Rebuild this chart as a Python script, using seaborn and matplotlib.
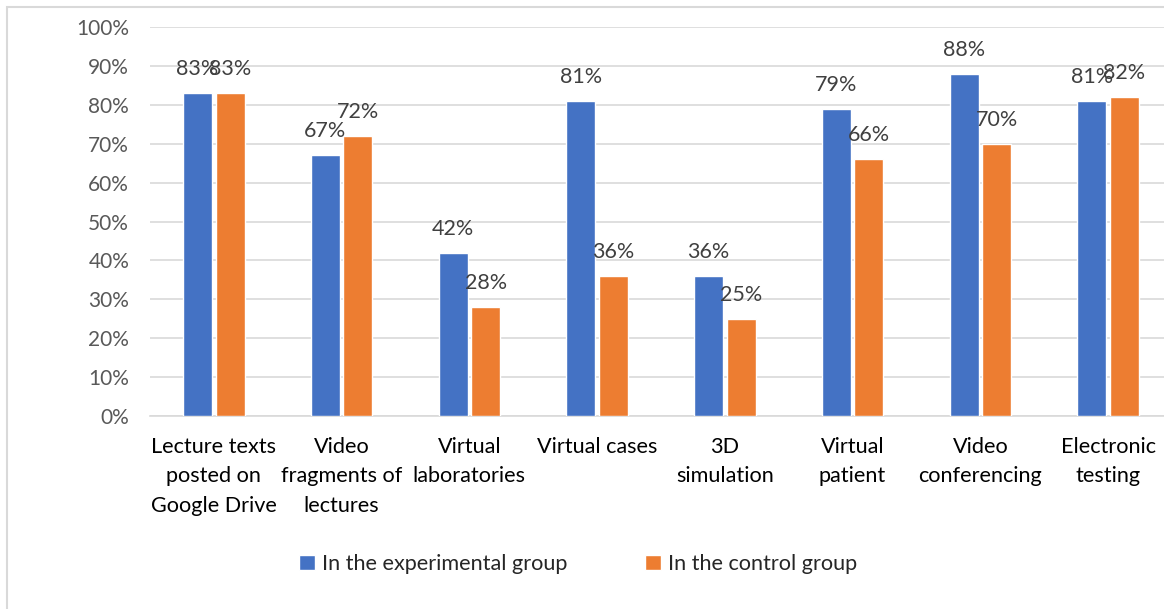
import pandas as pd
import seaborn as sns
import matplotlib.pyplot as plt
from matplotlib.patches import Rectangle

# données
categories = ["Lecture texts\nposted on\nGoogle Drive", "Video\nfragments of\nlectures",
              "Virtual\nlaboratories", "Virtual cases", "3D\nsimulation",
              "Virtual\npatient", "Video\nconferencing", "Electronic\ntesting"]
experimental = [83, 67, 42, 81, 36, 79, 88, 81]
control = [83, 72, 28, 36, 25, 66, 70, 82]
groups = ["In the experimental group", "In the control group"]

df = pd.DataFrame({
    "category": categories * 2,
    "value": experimental + control,
    "group": [groups[0]] * len(categories) + [groups[1]] * len(categories),
})

sns.set_style("white")
plt.rcParams["font.family"] = ["Lato", "DejaVu Sans"]

fig = plt.figure(figsize=(11.64, 6.09), dpi=100)
ax = fig.add_axes([150 / 1164, 1 - 416 / 609, 1022 / 1164, 389 / 609])

sns.barplot(data=df, x="category", y="value", hue="group", hue_order=groups,
            order=categories, palette=["#4472C4", "#ED7D31"],
            width=0.51, gap=0.11, saturation=1, ax=ax, zorder=3)

ax.set_ylim(0, 100)
ax.set_yticks(range(0, 101, 10))
ax.set_yticklabels([f"{v}%" for v in range(0, 101, 10)], fontsize=15, color="#595959")
ax.tick_params(axis="y", length=0, pad=15)
ax.tick_params(axis="x", length=0, pad=15, labelsize=15.6, labelcolor="black")
for lab in ax.get_xticklabels():
    lab.set_linespacing(1.6)
    lab.set_verticalalignment("top")
ax.grid(axis="y", color="#d9d9d9", linewidth=1.2, zorder=0)
for s in ["left", "right", "top"]:
    ax.spines[s].set_visible(False)
ax.spines["bottom"].set_color("#d9d9d9")
ax.spines["bottom"].set_linewidth(1.2)
ax.set_xlabel("")
ax.set_ylabel("")

for cont in ax.containers:
    for bar in cont:
        h = bar.get_height()
        ax.annotate(f"{h:.0f}%", (bar.get_x() + bar.get_width() / 2, h),
                    xytext=(0, 13), textcoords="offset points",
                    ha="center", va="baseline", fontsize=15.5, color="#404040")

handles, labels = ax.get_legend_handles_labels()
ax.legend_.remove()
fig.legend(handles, labels, loc="center", bbox_to_anchor=(578 / 1164, 1 - 564 / 609),
           ncol=2, frameon=False, fontsize=15.6, handlelength=0.75, handleheight=0.75,
           handletextpad=0.3, columnspacing=3.6)

fig.patches.append(Rectangle((7 / 1164, -0.1), 1.2, 1 - 7 / 609 + 0.1,
                             transform=fig.transFigure, fill=False,
                             edgecolor="#d9d9d9", linewidth=1.5))

fig.savefig("out.png", dpi=100)
